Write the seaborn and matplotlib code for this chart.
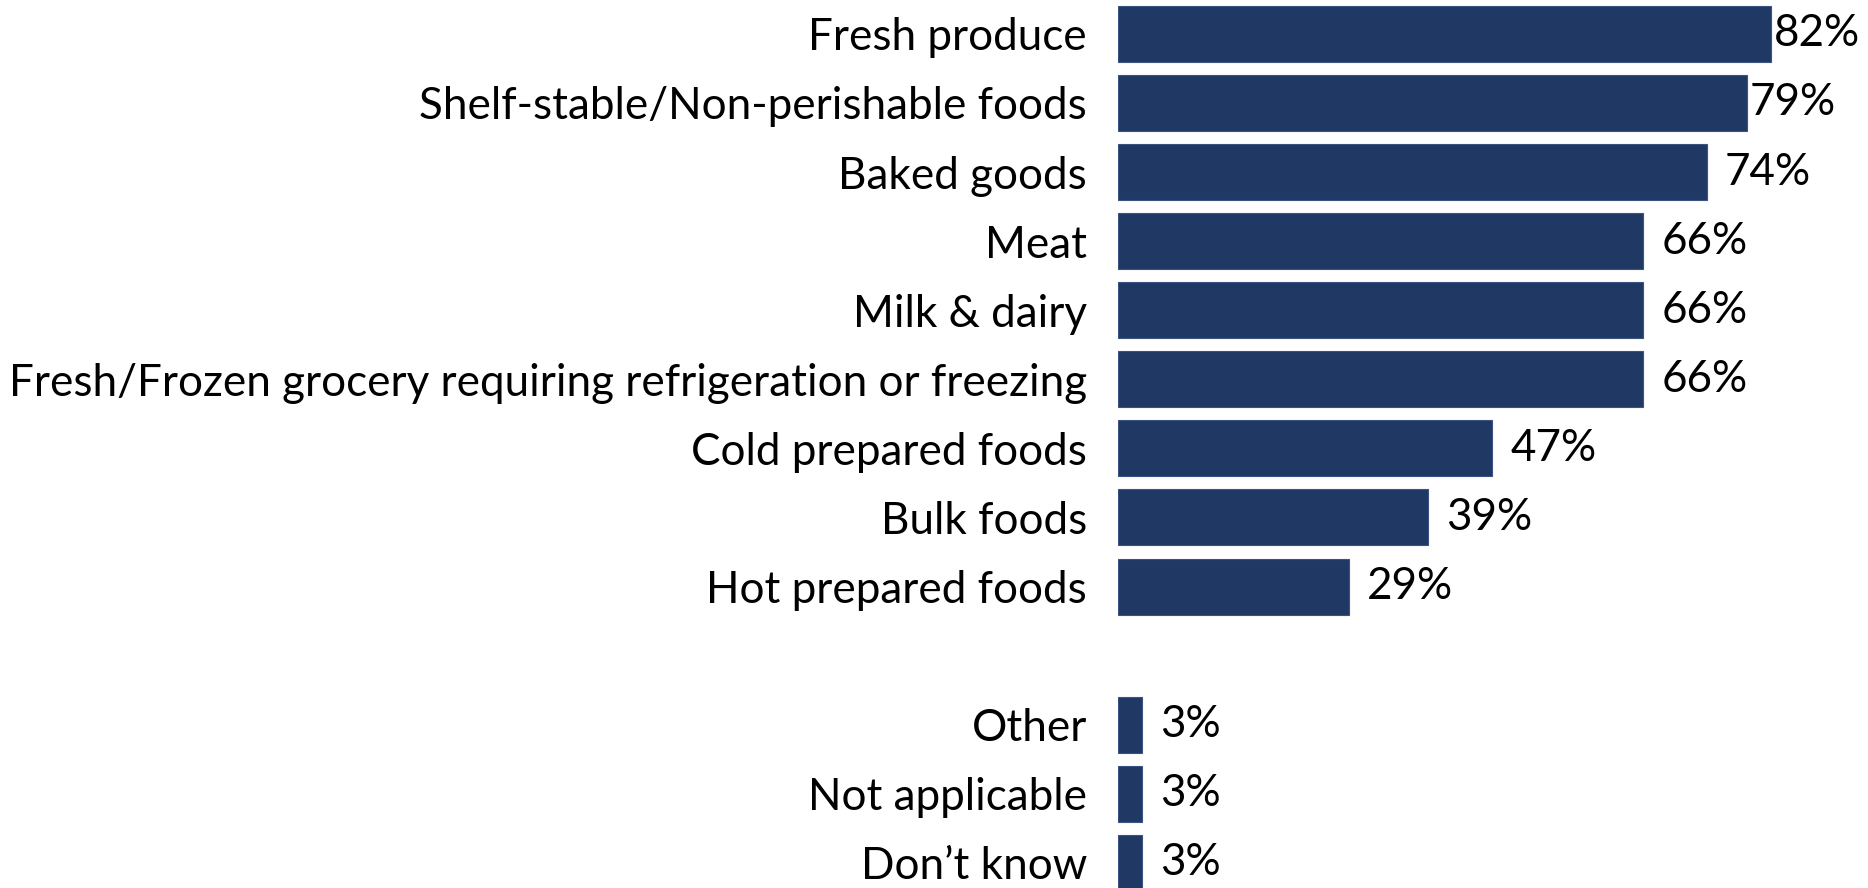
import matplotlib
matplotlib.use("Agg")
import matplotlib.pyplot as plt
import seaborn as sns
import pandas as pd

# Main food categories
categories = [
    "Fresh produce",
    "Shelf-stable/Non-perishable foods",
    "Baked goods",
    "Meat",
    "Milk & dairy",
    "Fresh/Frozen grocery requiring refrigeration or freezing",
    "Cold prepared foods",
    "Bulk foods",
    "Hot prepared foods",
]
values = [82, 79, 74, 66, 66, 66, 47, 39, 29]

# Separate group below a blank row
other_categories = ["Other", "Not applicable", "Don\u2019t know"]
other_values = [3, 3, 3]

spacer = " "
order = categories + [spacer] + other_categories

df = pd.DataFrame({
    "category": categories + other_categories,
    "value": values + other_values,
})

sns.set_theme(style="white")
plt.rcParams["font.family"] = ["Lato", "DejaVu Sans"]

W, H, DPI = 1868, 888, 100
fig = plt.figure(figsize=(W / DPI, H / DPI), dpi=DPI)
fig.patch.set_facecolor("white")

# axes: bars start at x=1118 px, full height
ax = fig.add_axes([1118 / W, 0.0, (W - 1118) / W, 1.0])

bar_color = "#1F3864"
sns.barplot(
    data=df, x="value", y="category", order=order, orient="h",
    color=bar_color, width=0.81, saturation=1, ax=ax,
    edgecolor="#3A5383", linewidth=0.8, errorbar=None,
)

px_per_unit = 7.96
ax.set_xlim(0, (W - 1118) / px_per_unit)
pitch = 69.08
top_center = 33.9
ax.set_ylim((H - top_center) / pitch, -top_center / pitch)

fs = 31.7
ax.set_xlabel("")
ax.set_ylabel("")
ax.set_xticks([])
ax.tick_params(axis="y", length=0, pad=22.3, labelsize=fs, labelcolor="black")
for s in ax.spines.values():
    s.set_visible(False)

# value labels to the right of each bar
for p in ax.patches:
    w = p.get_width()
    if not (w == w) or w <= 0:
        continue
    pad_pts = 2 if w >= 75 else 13
    yc = p.get_y() + p.get_height() / 2
    ax.annotate(f"{w:.0f}%", xy=(w, yc), xytext=(pad_pts, 0),
                textcoords="offset points", ha="left", va="center",
                fontsize=fs, color="black", annotation_clip=False)

fig.savefig("out.png", dpi=DPI, facecolor="white")
